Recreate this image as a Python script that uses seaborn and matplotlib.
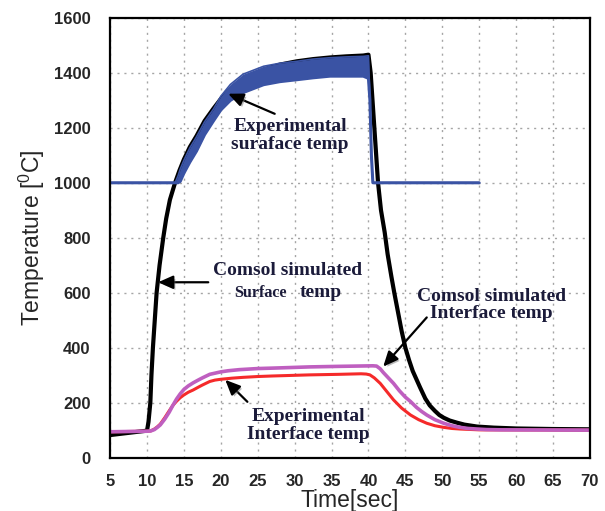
import numpy as np
import pandas as pd
import matplotlib
matplotlib.use("Agg")
import matplotlib.pyplot as plt
import matplotlib.patheffects as pe
import seaborn as sns

# ---------------- data ----------------
black_t = [5, 10, 10.2, 10.45, 10.6, 10.8, 11.05, 11.3, 11.7, 12.2, 12.6, 13.1, 13.8, 14.4,
           15, 15.8, 16.7, 17.8, 19, 20, 21.3, 23, 25.8, 28, 30.3, 32.5, 34.8, 37, 39.3,
           40, 40.3, 40.8, 41.3, 41.7, 42.2, 42.6, 43.1, 43.5, 44, 44.5, 45, 45.5, 46,
           46.5, 47, 47.7, 48.3, 49, 49.6, 50.2, 51, 52, 53, 54.7, 57, 60, 65, 70]
black_v = [82, 98, 130, 200, 300, 400, 500, 600, 700, 800, 870, 938, 1000, 1045,
           1085, 1130, 1170, 1225, 1270, 1305, 1340, 1375, 1412, 1430, 1442, 1450, 1456, 1460, 1463,
           1466, 1400, 1200, 1000, 900, 820, 740, 660, 600, 530, 460, 400, 355, 315,
           285, 255, 215, 190, 170, 155, 145, 135, 127, 120, 113, 109, 106, 104, 103]

blue_t = [5, 13.8, 14.2, 14.5, 15, 15.8, 16.7, 17.8, 19, 20, 21.3, 23, 25.8, 28, 30.3,
          32.5, 34.8, 37, 39.3, 40.0, 40.2, 40.4, 40.6, 55]
blue_lo = [1000, 1000, 1000, 1005, 1035, 1075, 1115, 1175, 1225, 1265, 1300, 1328, 1357,
           1368, 1375, 1382, 1388, 1388, 1388, 1380, 1300, 1100, 1000, 1000]
blue_hi = [1000, 1000, 1025, 1050, 1082, 1127, 1167, 1222, 1268, 1315, 1358, 1395, 1424,
           1435, 1442, 1450, 1455, 1458, 1460, 1462, 1300, 1100, 1000, 1000]

mag_t = [5, 10, 10.5, 11, 11.4, 11.8, 12.4, 13, 13.5, 14, 14.5, 15, 15.6, 16.25, 17, 17.5,
         18.5, 20, 21, 22.5, 25, 27.5, 32, 36, 40.6, 41.1, 41.6, 42, 42.7, 43.4, 44.2,
         45, 45.7, 46.5, 47.2, 47.9, 49, 50.2, 51.3, 52.4, 53.5, 54.7, 56, 58, 70]
mag_v = [94, 96, 97, 102, 110, 119, 140, 165, 190, 213, 232, 248, 261, 272, 283, 290,
         303, 312, 316, 320, 324, 326, 330, 332, 334, 333, 323, 310, 290, 270, 243,
         220, 204, 183, 168, 155, 138, 125, 116, 110, 106, 104, 102, 101, 100]

red_t = [5, 10, 10.5, 11, 11.4, 11.8, 12.4, 13, 13.5, 14, 14.5, 15, 15.6, 16.25, 17, 17.5,
         18.5, 19.2, 20, 21.5, 23, 25, 27, 32, 36, 39, 39.7, 40.2, 40.8, 41.6, 42.5, 43.4,
         44.5, 45.7, 46.8, 47.9, 49, 50.2, 51.3, 52.4, 55, 70]
red_v = [94, 96, 97, 104, 112, 122, 145, 170, 190, 205, 218, 228, 238, 246, 257, 264,
         277, 282, 285, 289, 292, 295, 297, 301, 303, 305, 304, 301, 290, 270, 240, 210,
         180, 155, 138, 125, 116, 110, 106, 104, 101, 100]

x_ticks = [5, 10, 15, 20, 25, 30, 35, 40, 45, 50, 55, 60, 65, 70]
y_ticks = [0, 200, 400, 600, 800, 1000, 1200, 1400, 1600]

# ---------------- style ----------------
sns.set_style("white")
plt.rcParams["font.family"] = ["Liberation Sans", "DejaVu Sans"]
plt.rcParams["mathtext.fontset"] = "custom"
plt.rcParams["mathtext.rm"] = "Liberation Sans"
plt.rcParams["mathtext.it"] = "Liberation Sans"

fig = plt.figure(figsize=(6.05, 5.11), dpi=100)
ax = fig.add_axes([0.182, 0.1045, 0.793, 0.8605])

BLUE = "#3a53a4"
RED = "#f52a2a"
MAG = "#bf5fc0"

df_black = pd.DataFrame({"t": black_t, "v": black_v})
df_red = pd.DataFrame({"t": red_t, "v": red_v})
df_mag = pd.DataFrame({"t": mag_t, "v": mag_v})
df_blue = pd.DataFrame({"t": blue_t, "lo": blue_lo, "hi": blue_hi})

sns.lineplot(data=df_black, x="t", y="v", ax=ax, color="black", lw=3.0, zorder=3)
ax.fill_between(df_blue["t"], df_blue["lo"], df_blue["hi"], color=BLUE, lw=0, zorder=4)
sns.lineplot(data=df_blue, x="t", y="lo", ax=ax, color=BLUE, lw=2.2, zorder=4)
sns.lineplot(data=df_blue, x="t", y="hi", ax=ax, color=BLUE, lw=1.2, zorder=4)
sns.lineplot(data=df_red, x="t", y="v", ax=ax, color=RED, lw=2.2, zorder=5)
sns.lineplot(data=df_mag, x="t", y="v", ax=ax, color=MAG, lw=2.6, zorder=6)

ax.set_xlim(5, 70)
ax.set_ylim(0, 1600)
ax.set_xticks(x_ticks)
ax.set_yticks(y_ticks)
ax.set_xticklabels([str(v) for v in x_ticks], fontweight="bold", fontsize=12)
ax.set_yticklabels([str(v) for v in y_ticks], fontweight="bold", fontsize=12)
ax.tick_params(axis="both", length=0)
ax.tick_params(axis="x", pad=12)
ax.tick_params(axis="y", pad=14)
ax.grid(True, color="#a5a5a5", linestyle=(0, (1.5, 3.5)), lw=1.0)
for s in ax.spines.values():
    s.set_visible(True)
    s.set_color("black")
    s.set_linewidth(1.6)
    s.set_zorder(10)

ax.set_xlabel("Time[sec]", fontsize=16.5, labelpad=0)
ax.set_ylabel("Temperature [$^{0}$C]", fontsize=16.5, labelpad=5)

# ---------------- annotations ----------------
TXT = "#1b1b3a"
tfont = dict(family=["Liberation Serif", "DejaVu Serif"], fontweight="bold", color=TXT)
shadow = [pe.withSimplePatchShadow(offset=(1.5, -1.5), shadow_rgbFace="#777777", alpha=0.5)]
arrowp = dict(arrowstyle="-|>,head_length=0.9,head_width=0.4", color="black", lw=1.6,
              shrinkA=0, shrinkB=0, path_effects=shadow)

def ann(tip, tail):
    ax.annotate("", xy=tip, xytext=tail, arrowprops=arrowp, zorder=8)

ax.text(29.4, 1173, "Experimental\nsuraface temp", ha="center", va="center",
        fontsize=14, linespacing=1.05, zorder=9, **tfont)
ann((21.0, 1324), (27.3, 1251))

ax.text(29.0, 679, "Comsol simulated", ha="center", va="center", fontsize=14, zorder=9, **tfont)
ax.text(25.4, 600, "Surface", ha="center", va="center", fontsize=11.5, zorder=9, **tfont)
ax.text(33.6, 600, "temp", ha="center", va="center", fontsize=14, zorder=9, **tfont)
ann((11.5, 638), (18.3, 638))

ax.text(56.7, 555, "Comsol simulated\nInterface temp", ha="center", va="center",
        fontsize=14, linespacing=1.05, zorder=9, **tfont)
ann((42.0, 331), (47.9, 510))

ax.text(31.9, 116, "Experimental\nInterface temp", ha="center", va="center",
        fontsize=14, linespacing=1.05, zorder=9, **tfont)
ann((20.6, 283), (23.6, 203))

fig.savefig("out.png", dpi=100)
